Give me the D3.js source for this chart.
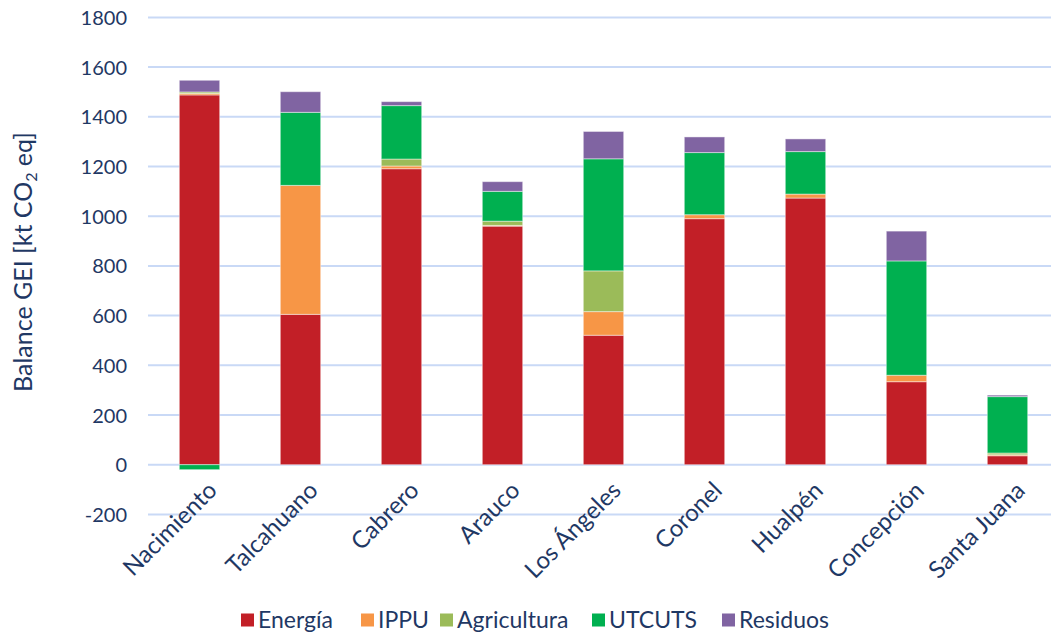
<!DOCTYPE html>
<html>
<head>
<meta charset="utf-8">
<script src="https://cdn.jsdelivr.net/npm/d3@7"></script>
<style>
  html, body { margin: 0; padding: 0; background: #fff; }
  svg { display: block; font-family: Lato, "Open Sans", sans-serif; }
</style>
</head>
<body>
<svg id="chart" width="1051" height="636"></svg>
<script>
// Comunas
const categories = ["Nacimiento", "Talcahuano", "Cabrero", "Arauco", "Los Ángeles",
                    "Coronel", "Hualpén", "Concepción", "Santa Juana"];

// Balance by sector, kt CO2 eq
const energia     = [1488, 605, 1191, 960, 521, 990, 1073, 334, 36];
const ippu        = [6, 519, 11, 3, 95, 16, 16, 26, 4];
const agricultura = [6, 0, 28, 17, 164, 0, 0, 0, 7];
const utcuts      = [-20, 294, 215, 120, 451, 250, 171, 460, 227];
const residuos    = [47, 83, 16, 39, 110, 63, 51, 120, 6];

const seriesNames = ["Energía", "IPPU", "Agricultura", "UTCUTS", "Residuos"];
const seriesColors = ["#C21F27", "#F79646", "#9BBB59", "#00B050", "#8064A2"];
const yTicks = [-200, 0, 200, 400, 600, 800, 1000, 1200, 1400, 1600, 1800];

const rows = categories.map((c, i) => ({
  cat: c,
  "Energía": energia[i],
  "IPPU": ippu[i],
  "Agricultura": agricultura[i],
  "UTCUTS": utcuts[i],
  "Residuos": residuos[i]
}));

const textColor = "#1F3864";
const fontFam = "Lato, 'Open Sans', sans-serif";
const svg = d3.select("#chart");

const x = d3.scaleBand().domain(categories).range([149, 1058]).paddingInner(0.6).paddingOuter(0.3);
const y = d3.scaleLinear().domain([-200, 1800]).range([514.4, 17.4]);

// Grid lines
svg.append("g").selectAll("line").data(yTicks).join("line")
  .attr("x1", 148).attr("x2", 1051)
  .attr("y1", d => y(d)).attr("y2", d => y(d))
  .attr("stroke", "#C9D9F6").attr("stroke-width", 2);

// Y axis labels
const yAxis = d3.axisLeft(y).tickValues(yTicks).tickSize(0).tickPadding(0)
  .tickFormat(d => String(d));
const gy = svg.append("g").attr("transform", "translate(127,0)").call(yAxis);
gy.select(".domain").remove();
gy.attr("font-family", null).attr("font-size", null);
gy.selectAll("text")
  .attr("fill", textColor)
  .style("font-size", "20px")
  .style("font-family", fontFam)
  .attr("dy", "0.35em");

// Stacked bars
const stack = d3.stack().keys(seriesNames).offset(d3.stackOffsetDiverging);
const stacked = stack(rows);

svg.append("g").selectAll("g").data(stacked).join("g")
  .attr("fill", (d, i) => seriesColors[i])
  .selectAll("rect").data(d => d).join("rect")
  .attr("x", d => x(d.data.cat))
  .attr("width", x.bandwidth())
  .attr("y", d => y(Math.max(d[0], d[1])))
  .attr("height", d => Math.abs(y(d[0]) - y(d[1])))
  .attr("stroke", "#ffffff").attr("stroke-opacity", 0.45).attr("stroke-width", 1);

// X axis labels (rotated)
const xAxis = d3.axisBottom(x).tickSize(0).tickPadding(0);
const gx = svg.append("g").call(xAxis);
gx.select(".domain").remove();
gx.attr("font-family", null).attr("font-size", null);
gx.selectAll(".tick").attr("transform", d => `translate(${x(d) + x.bandwidth() / 2 + 13},486)`);
gx.selectAll("text")
  .attr("fill", textColor)
  .style("font-size", "24px")
  .style("font-family", fontFam)
  .attr("text-anchor", "end")
  .attr("y", 0).attr("dy", "0.35em")
  .attr("transform", "rotate(-45)");

// Y title
const yTitle = svg.append("text")
  .attr("transform", "translate(32,262) rotate(-90)")
  .attr("text-anchor", "middle")
  .attr("fill", textColor)
  .style("font-size", "25px");
yTitle.append("tspan").text("Balance GEI [kt CO");
yTitle.append("tspan").text("2").style("font-size", "16px").attr("dy", 5);
yTitle.append("tspan").text(" eq]").attr("dy", -5);

// Legend
const legendX = [241, 361, 440, 592, 722];
const legend = svg.append("g").selectAll("g").data(seriesNames).join("g")
  .attr("transform", (d, i) => `translate(${legendX[i]},620)`);
legend.append("rect")
  .attr("x", 0).attr("y", -6.5).attr("width", 13).attr("height", 13)
  .attr("fill", (d, i) => seriesColors[i]);
legend.append("text")
  .attr("x", 17).attr("y", 0).attr("dy", "0.35em")
  .attr("fill", textColor)
  .style("font-size", "23px")
  .text(d => d);
</script>
</body>
</html>
